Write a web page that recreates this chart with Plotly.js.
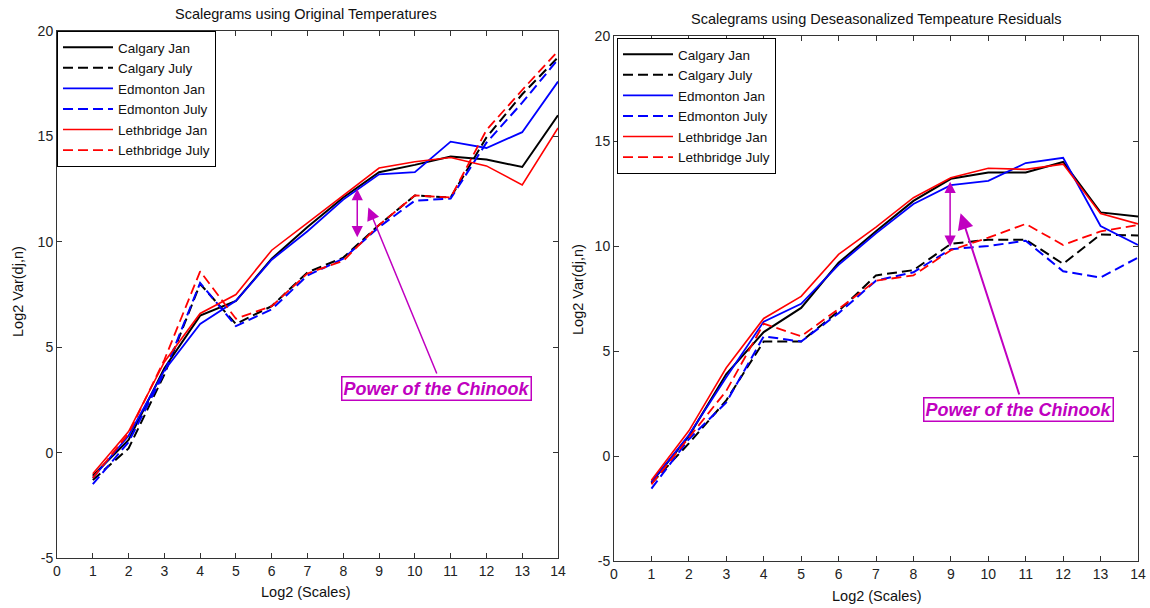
<!DOCTYPE html>
<html>
<head>
<meta charset="utf-8">
<script src="https://cdn.plot.ly/plotly-3.0.1.min.js"></script>
<style>html,body{margin:0;padding:0;background:#fff;}#chart{width:1150px;height:608px;}</style>
</head>
<body>
<div id="chart"></div>
<script>
// ---- data ----
const scales = [1,2,3,4,5,6,7,8,9,10,11,12,13,14];
const seriesNames = ["Calgary Jan","Calgary July","Edmonton Jan","Edmonton July","Lethbridge Jan","Lethbridge July"];

// Left: original temperatures
const origCalgaryJan   = [-1.1, 0.6, 4.0, 6.5, 7.2, 9.2, 10.7, 12.1, 13.3, 13.65, 14.05, 13.9, 13.55, 16.0];
const origCalgaryJuly  = [-1.3, 0.2, 3.7, 8.0, 6.1, 6.95, 8.55, 9.25, 10.8, 12.2, 12.1, 14.95, 17.0, 18.75];
const origEdmontonJan  = [-1.2, 0.8, 3.9, 6.1, 7.2, 9.15, 10.5, 12.0, 13.2, 13.3, 14.75, 14.45, 15.2, 17.6];
const origEdmontonJuly = [-1.5, 0.5, 3.8, 8.05, 6.0, 6.8, 8.4, 9.2, 10.7, 11.95, 12.05, 14.7, 16.6, 18.65];
const origLethJan      = [-1.0, 1.0, 4.3, 6.6, 7.5, 9.6, 10.9, 12.2, 13.5, 13.8, 14.0, 13.6, 12.7, 15.4];
const origLethJuly     = [-1.2, 0.9, 4.4, 8.6, 6.35, 6.95, 8.5, 9.1, 10.8, 12.2, 12.1, 15.3, 17.2, 19.05];

// Right: deseasonalized residuals
const desCalgaryJan   = [-1.25, 0.95, 3.9, 5.9, 7.05, 9.2, 10.7, 12.15, 13.2, 13.5, 13.5, 14.0, 11.6, 11.4];
const desCalgaryJuly  = [-1.3, 0.6, 2.65, 5.45, 5.45, 6.9, 8.6, 8.85, 10.1, 10.3, 10.3, 9.15, 10.55, 10.5];
const desEdmontonJan  = [-1.25, 1.0, 3.75, 6.4, 7.25, 9.1, 10.6, 12.0, 12.9, 13.1, 13.95, 14.2, 10.95, 10.05];
const desEdmontonJuly = [-1.55, 0.8, 2.55, 5.7, 5.45, 6.8, 8.35, 8.75, 9.85, 10.0, 10.25, 8.8, 8.5, 9.45];
const desLethJan      = [-1.15, 1.2, 4.2, 6.55, 7.6, 9.6, 10.9, 12.3, 13.25, 13.7, 13.65, 13.9, 11.55, 11.05];
const desLethJuly     = [-1.35, 0.85, 3.1, 6.3, 5.7, 7.0, 8.35, 8.6, 9.8, 10.4, 11.05, 10.05, 10.7, 11.0];

// tick labels
const yTickVals = [-5, 0, 5, 10, 15, 20];
const yTickText = ["-5", "0", "5", "10", "15", "20"];
const xTickVals = [0,1,2,3,4,5,6,7,8,9,10,11,12,13,14];
const xTickText = ["0","1","2","3","4","5","6","7","8","9","10","11","12","13","14"];

const titles = ["Scalegrams using Original Temperatures", "Scalegrams using Deseasonalized Tempeature Residuals"];
const xTitle = "Log2 (Scales)";
const yTitle = "Log2 Var(dj,n)";
const noteText = "Power of the Chinook";

// ---- styles ----
const FONT = "Liberation Sans, Arial, sans-serif";
const MAG = "#c000c0";
const DASH = "10px,5px";
const styles = [
  {color:"#000000", dash:"solid", width:2},
  {color:"#000000", dash:DASH, width:2},
  {color:"#0000ff", dash:"solid", width:1.8},
  {color:"#0000ff", dash:DASH, width:2},
  {color:"#ff0000", dash:"solid", width:1.6},
  {color:"#ff0000", dash:DASH, width:1.8}
];

const leftSets = [origCalgaryJan, origCalgaryJuly, origEdmontonJan, origEdmontonJuly, origLethJan, origLethJuly];
const rightSets = [desCalgaryJan, desCalgaryJuly, desEdmontonJan, desEdmontonJuly, desLethJan, desLethJuly];

const traces = [];
leftSets.forEach((ys, i) => traces.push({
  x: scales, y: ys, name: seriesNames[i], type: "scatter", mode: "lines",
  xaxis: "x", yaxis: "y", legend: "legend",
  line: {color: styles[i].color, dash: styles[i].dash, width: styles[i].width}
}));
rightSets.forEach((ys, i) => traces.push({
  x: scales, y: ys, name: seriesNames[i], type: "scatter", mode: "lines",
  xaxis: "x2", yaxis: "y2", legend: "legend2",
  line: {color: styles[i].color, dash: styles[i].dash, width: styles[i].width}
}));

const W = 1150, H = 608;
const px = v => v / W, py = v => (H - v) / H;

const tickFont = {family: FONT, size: 14, color: "#222"};
function xax(dom, anchor) {
  return {domain: dom, anchor: anchor, range: [0, 14], tickmode: "array",
    tickvals: xTickVals, ticktext: xTickText,
    showline: true, linecolor: "#333", linewidth: 1, mirror: "ticks",
    ticks: "inside", ticklen: 5, tickcolor: "#333",
    showgrid: false, zeroline: false, tickfont: tickFont};
}
function yax(dom, anchor) {
  return {domain: dom, anchor: anchor, range: [-5, 20], tickmode: "array",
    tickvals: yTickVals, ticktext: yTickText,
    showline: true, linecolor: "#333", linewidth: 1, mirror: "ticks",
    ticks: "inside", ticklen: 5, tickcolor: "#333",
    showgrid: false, zeroline: false, tickfont: tickFont};
}

const txt = (t, x, y, size, opts) => Object.assign({text: t, x: x, y: y, xref: "paper", yref: "paper",
  xanchor: "center", yanchor: "middle",
  showarrow: false, font: {family: FONT, size: size, color: "#111"}}, opts || {});

const annotations = [
  txt(titles[0], px(306), py(14), 14.5),
  txt(titles[1], px(876), py(19), 14.5),
  txt(xTitle, px(305), py(592), 14.5),
  txt(xTitle, px(876), py(596), 14.5),
  txt(yTitle, px(18), py(292), 14.5, {textangle: -90}),
  txt(yTitle, px(578), py(290), 14.5, {textangle: -90}),
  // left plot chinook annotations
  {x: 8.39, y: 12.5, ax: 8.39, ay: 10.15, xref: "x", yref: "y", axref: "x", ayref: "y",
   text: "", showarrow: true, arrowside: "end+start", arrowhead: 2, startarrowhead: 2,
   arrowsize: 1.5, startarrowsize: 1.5, arrowwidth: 1.5, arrowcolor: MAG},
  {x: 8.7, y: 11.63, ax: 10.63, ay: 3.68, xref: "x", yref: "y", axref: "x", ayref: "y",
   text: "", showarrow: true, arrowhead: 2, arrowsize: 1.7, arrowwidth: 1.5, arrowcolor: MAG},
  {x: 10.6, y: 3.06, xref: "x", yref: "y", text: "<b><i>" + noteText + "</i></b>", showarrow: false,
   font: {family: FONT, size: 18, color: MAG}, bordercolor: MAG, borderwidth: 1.5, borderpad: 1, bgcolor: "#ffffff"},
  // right plot chinook annotations
  {x: 8.98, y: 13.06, ax: 8.98, ay: 9.89, xref: "x2", yref: "y2", axref: "x2", ayref: "y2",
   text: "", showarrow: true, arrowside: "end+start", arrowhead: 2, startarrowhead: 2,
   arrowsize: 1.5, startarrowsize: 1.5, arrowwidth: 1.5, arrowcolor: MAG},
  {x: 9.26, y: 11.56, ax: 10.84, ay: 2.86, xref: "x2", yref: "y2", axref: "x2", ayref: "y2",
   text: "", showarrow: true, arrowhead: 2, arrowsize: 1.6, arrowwidth: 2, arrowcolor: MAG},
  {x: 10.82, y: 2.21, xref: "x2", yref: "y2", text: "<b><i>" + noteText + "</i></b>", showarrow: false,
   font: {family: FONT, size: 18, color: MAG}, bordercolor: MAG, borderwidth: 1.5, borderpad: 1, bgcolor: "#ffffff"}
];

const legendBase = {bgcolor: "#ffffff", bordercolor: "#000", borderwidth: 1,
  font: {family: FONT, size: 13.5, color: "#111"}, xanchor: "left", yanchor: "top",
  tracegroupgap: 0, itemwidth: 50};

const layout = {
  width: W, height: H,
  margin: {l: 0, r: 0, t: 0, b: 0},
  paper_bgcolor: "#ffffff", plot_bgcolor: "#ffffff",
  showlegend: true,
  xaxis: xax([px(57), px(558)], "y"),
  yaxis: yax([py(558), py(31)], "x"),
  xaxis2: xax([px(614), px(1138)], "y2"),
  yaxis2: yax([py(561), py(36)], "x2"),
  legend: Object.assign({x: px(57), y: py(31)}, legendBase),
  legend2: Object.assign({x: px(617), y: py(38)}, legendBase),
  annotations: annotations
};

Plotly.newPlot("chart", traces, layout, {displayModeBar: false, staticPlot: true});
</script>
</body>
</html>
